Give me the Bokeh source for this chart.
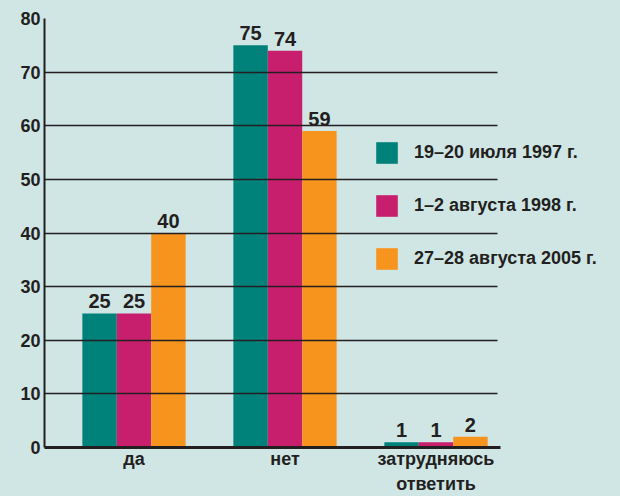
from bokeh.plotting import figure
from bokeh.models import ColumnDataSource, Range1d, FixedTicker, Legend, LegendItem
from bokeh.transform import dodge
from bokeh.core.properties import value
from bokeh.embed import file_html
from bokeh.resources import INLINE

# ---- data ----
categories = ["да", "нет", "затрудняюсь\nответить"]
series_names = ["19–20 июля 1997 г.", "1–2 августа 1998 г.", "27–28 августа 2005 г."]
s1997 = [25, 75, 1]
s1998 = [25, 74, 1]
s2005 = [40, 59, 2]
y_ticks = [0, 10, 20, 30, 40, 50, 60, 70, 80]

colors = ["#00827b", "#c81e6e", "#f7941d"]
BG = "#cfe6e5"
TXT = "#231f20"
FONT = "Liberation Sans"

W, H = 620, 496
LEFT, TOP, BOTTOM = 44, 18, 49
PX_PER_CAT = 151.0
FRAME_W = W - LEFT
x_start = 0.5 - 89.5 / PX_PER_CAT
x_end = x_start + FRAME_W / PX_PER_CAT
cat_end = x_start + len(categories)

xc = [i + 0.5 for i in range(len(categories))]

src = ColumnDataSource(dict(
    x=xc,
    a=s1997, b=s1998, c=s2005,
    la=[str(v) for v in s1997],
    lb=[str(v) for v in s1998],
    lc=[str(v) for v in s2005],
))

p = figure(width=W, height=H, x_range=Range1d(x_start, x_end),
           y_range=Range1d(0, 80), output_backend="svg", toolbar_location=None,
           min_border_left=LEFT, min_border_right=0, min_border_top=TOP,
           min_border_bottom=BOTTOM)

p.background_fill_color = BG
p.border_fill_color = BG
p.outline_line_color = None

bw = 0.228
offsets = [-bw, 0.0, bw]
renderers = []
for col, lab, off, color in zip(["a", "b", "c"], ["la", "lb", "lc"], offsets, colors):
    r = p.vbar(x=dodge("x", off), top=col, width=bw, source=src,
               fill_color=color, line_color=None)
    renderers.append(r)
    p.text(x=dodge("x", off), y=col, text=lab, source=src,
           text_align="center", text_baseline="bottom", y_offset=-5,
           text_font=value(FONT), text_font_style="bold", text_font_size="20px",
           text_color=TXT)

# y axis
p.yaxis.ticker = FixedTicker(ticks=y_ticks)
p.yaxis.major_tick_out = 0
p.yaxis.major_tick_in = 0
p.yaxis.minor_tick_out = 0
p.yaxis.minor_tick_in = 0
p.yaxis.axis_line_width = 2
p.yaxis.axis_line_color = TXT
p.yaxis.major_label_standoff = 4
p.yaxis.major_label_text_font = FONT
p.yaxis.major_label_text_font_style = "bold"
p.yaxis.major_label_text_font_size = "18px"
p.yaxis.major_label_text_color = TXT

# x axis
p.xaxis.ticker = FixedTicker(ticks=xc)
p.xaxis.major_label_overrides = {x: c for x, c in zip(xc, categories)}
p.xaxis.bounds = (x_start, cat_end + 0.02)
p.xaxis.major_tick_out = 0
p.xaxis.major_tick_in = 0
p.xaxis.minor_tick_out = 0
p.xaxis.minor_tick_in = 0
p.xaxis.axis_line_width = 3
p.xaxis.axis_line_color = TXT
p.xaxis.major_label_standoff = 1
p.xaxis.major_label_text_font = FONT
p.xaxis.major_label_text_font_style = "bold"
p.xaxis.major_label_text_font_size = "18px"
p.xaxis.major_label_text_color = TXT
p.xaxis.major_label_text_line_height = 1.25

p.xgrid.grid_line_color = None
p.ygrid.ticker = FixedTicker(ticks=y_ticks[1:])
p.ygrid.cross_bounds = (x_start, cat_end)
p.ygrid.grid_line_color = TXT
p.ygrid.grid_line_width = 1.5
p.ygrid.level = "overlay"

legend = Legend(items=[LegendItem(label=n, renderers=[r]) for n, r in zip(series_names, renderers)],
                location=(329, 175), orientation="vertical",
                glyph_width=27, glyph_height=27, label_height=27, label_standoff=14,
                spacing=26, padding=0, margin=0,
                border_line_color=None, background_fill_alpha=0,
                label_text_font=FONT, label_text_font_style="bold",
                label_text_font_size="18px", label_text_color=TXT)
p.add_layout(legend, "center")

html = file_html(p, INLINE)
html = html.replace("</head>", "<style>html,body{background:%s;}</style></head>" % BG, 1)
open("out.html", "w").write(html)
